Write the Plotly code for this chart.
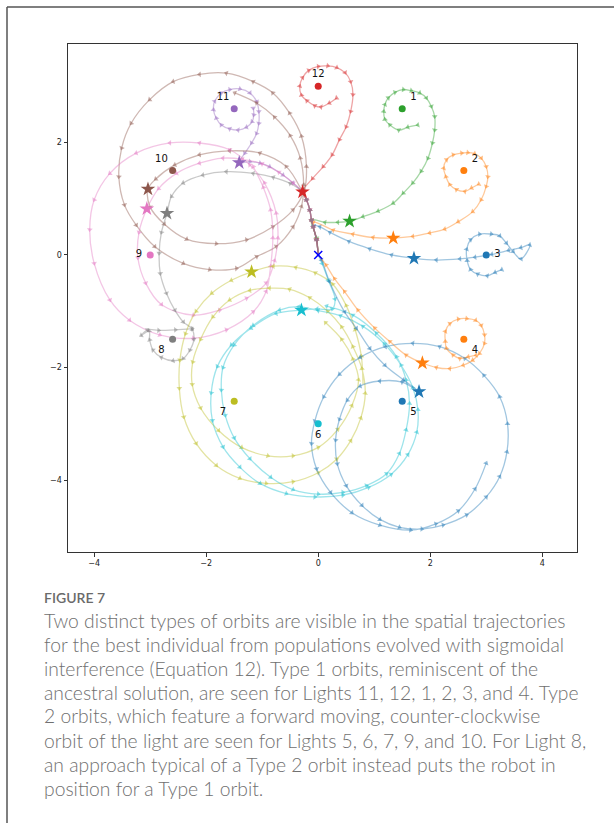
import plotly.graph_objects as go

# ---------------- data ----------------
light_ids = [3, 2, 1, 12, 11, 10, 9, 8, 7, 6, 5, 4]
light_x = [3.0, 2.6, 1.5, 0.0, -1.5, -2.6, -3.0, -2.6, -1.5, 0.0, 1.5, 2.6]
light_y = [0.0, 1.5, 2.6, 3.0, 2.6, 1.5, 0.0, -1.5, -2.6, -3.0, -2.6, -1.5]
star_x = [1.71, 1.34, 0.56, -0.28, -1.41, -3.04, -3.06, -2.70, -1.19, -0.30, 1.80, 1.86]
star_y = [-0.06, 0.30, 0.60, 1.12, 1.64, 1.17, 0.82, 0.74, -0.30, -0.98, -2.43, -1.92]
backward_ids = [11, 12, 1, 2, 3, 4]
origin_x = [0.0]
origin_y = [0.0]

p3_x = [0.00, -0.03, -0.08, 0.03, 0.21, 0.55, 0.92, 1.31, 1.71, 2.11, 2.53, 2.80, 3.10, 3.40, 3.62, 3.78,
        3.62, 3.48, 3.36, 3.24, 3.09, 2.88, 2.72, 2.65, 2.66, 2.72, 2.85, 3.02, 3.16, 3.28]
p3_y = [0.00, 0.27, 0.52, 0.50, 0.40, 0.24, 0.11, 0.00, -0.06, -0.09, -0.07, -0.04, 0.01, 0.08, 0.13, 0.18,
        -0.07, 0.06, 0.21, 0.34, 0.37, 0.37, 0.27, 0.10, -0.10, -0.26, -0.34, -0.37, -0.31, -0.26]

p2_x = [0.00, -0.03, -0.09, 0.27, 0.62, 0.98, 1.34, 1.69, 1.99, 2.26, 2.50, 2.76, 2.91, 3.00, 3.03, 3.00,
        2.91, 2.79, 2.67, 2.56, 2.41, 2.29, 2.24, 2.28, 2.35, 2.47, 2.62, 2.74, 2.87]
p2_y = [0.00, 0.28, 0.58, 0.44, 0.37, 0.31, 0.30, 0.33, 0.39, 0.46, 0.59, 0.77, 0.98, 1.22, 1.39, 1.57,
        1.72, 1.80, 1.82, 1.81, 1.78, 1.69, 1.54, 1.39, 1.25, 1.16, 1.13, 1.19, 1.26]

p1_x = [0.00, -0.03, -0.12, 0.12, 0.35, 0.56, 0.80, 1.07, 1.34, 1.52, 1.69, 1.84, 1.96, 2.04, 2.08, 2.08,
        2.02, 1.93, 1.81, 1.66, 1.52, 1.37, 1.25, 1.19, 1.17, 1.19, 1.28, 1.44, 1.60, 1.78]
p1_y = [0.00, 0.30, 0.62, 0.58, 0.58, 0.60, 0.68, 0.78, 0.92, 1.10, 1.28, 1.49, 1.72, 1.99, 2.22, 2.46,
        2.64, 2.79, 2.88, 2.92, 2.94, 2.89, 2.79, 2.67, 2.55, 2.41, 2.31, 2.22, 2.27, 2.31]

p12_x = [0.00, -0.03, -0.09, -0.12, -0.15, -0.21, -0.28, -0.10, 0.09, 0.25, 0.38, 0.50, 0.58, 0.62, 0.58,
         0.48, 0.33, 0.17, 0.00, -0.17, -0.28, -0.33, -0.30, -0.20, -0.06, 0.05, 0.20, 0.33]
p12_y = [0.00, 0.27, 0.50, 0.62, 0.80, 0.98, 1.12, 1.36, 1.57, 1.78, 2.05, 2.28, 2.55, 2.85, 3.08,
         3.24, 3.33, 3.36, 3.35, 3.28, 3.15, 3.00, 2.84, 2.74, 2.65, 2.63, 2.70, 2.79]

p11_x = [0.00, -0.03, -0.09, -0.12, -0.15, -0.21, -0.28, -0.45, -0.63, -0.87, -1.04, -1.22, -1.41, -1.31,
         -1.19, -1.10, -1.06, -1.06, -1.10, -1.22, -1.40, -1.58, -1.73, -1.85, -1.87, -1.82, -1.73, -1.58,
         -1.43, -1.28, -1.18, -1.15, -1.16]
p11_y = [0.00, 0.27, 0.50, 0.62, 0.80, 0.98, 1.12, 1.28, 1.42, 1.57, 1.63, 1.66, 1.64, 1.81,
         1.99, 2.16, 2.34, 2.55, 2.73, 2.88, 2.95, 2.94, 2.88, 2.73, 2.58, 2.43, 2.31, 2.24,
         2.22, 2.27, 2.37, 2.49, 2.61]

p10_x = [0.00, -0.03, -0.09, -0.12, -0.15, -0.21, -0.28, -0.57, -1.04, -1.58, -2.12, -2.56, -2.90, -3.04,
         -3.00, -2.75, -2.35, -1.82, -1.28, -0.81, -0.45, -0.25, -0.21, -0.30, -0.51, -0.81, -1.16, -1.64,
         -2.12, -2.59, -3.01, -3.34, -3.51, -3.56, -3.46, -3.25, -2.92, -2.41, -1.94, -1.46, -1.10, -0.75,
         -0.45, -0.30, -0.26, -0.32, -0.50, -0.78, -1.10, -1.49]
p10_y = [0.00, 0.27, 0.50, 0.62, 0.80, 0.98, 1.12, 1.57, 1.81, 1.85, 1.78, 1.60, 1.35, 1.17,
         0.85, 0.55, 0.28, 0.20, 0.27, 0.50, 0.80, 1.15, 1.57, 2.11, 2.52, 2.88, 3.08, 3.23,
         3.21, 3.08, 2.76, 2.34, 1.90, 1.39, 0.89, 0.53, 0.15, -0.15, -0.26, -0.24, -0.03, 0.15,
         0.50, 0.86, 1.25, 1.72, 2.12, 2.45, 2.70, 2.88]

p9_x = [0.00, -0.03, -0.09, -0.12, -0.15, -0.21, -0.28, -0.45, -0.70, -1.00, -1.35, -1.70, -2.12, -2.53,
        -2.85, -3.06, -3.20, -3.22, -3.08, -2.80, -2.23, -1.76, -1.28, -0.93, -0.78, -0.72, -0.75, -0.96,
        -1.22, -1.58, -2.12, -2.65, -3.25, -3.72, -4.00, -4.08, -4.00, -3.72, -3.37, -2.83, -2.23, -1.64,
        -1.16, -0.93, -0.85, -0.81, -0.85, -0.98, -1.16]
p9_y = [0.00, 0.27, 0.50, 0.62, 0.80, 0.98, 1.12, 1.28, 1.47, 1.62, 1.70, 1.72, 1.63, 1.45,
        1.18, 0.82, 0.40, -0.05, -0.50, -0.88, -1.07, -0.98, -0.77, -0.50, -0.10, 0.30, 0.74, 1.28,
        1.60, 1.87, 1.99, 1.99, 1.81, 1.45, 0.98, 0.45, -0.15, -0.80, -1.16, -1.42, -1.48, -1.33,
        -1.01, -0.65, -0.20, 0.30, 0.80, 1.20, 1.57]

p8_x = [0.00, -0.03, -0.09, -0.12, -0.15, -0.21, -0.28, -0.50, -0.80, -1.16, -1.64, -2.06, -2.41, -2.62,
        -2.70, -2.80, -2.84, -2.82, -2.71, -2.56, -2.41, -2.25, -2.22, -2.29, -2.41, -2.59, -2.80, -2.95,
        -3.01, -3.02, -3.16, -3.05, -2.85, -2.55, -2.25]
p8_y = [0.00, 0.27, 0.50, 0.62, 0.80, 0.98, 1.12, 1.27, 1.38, 1.45, 1.48, 1.42, 1.28, 1.04,
        0.74, 0.40, 0.03, -0.33, -0.68, -0.98, -1.19, -1.32, -1.50, -1.69, -1.84, -1.88, -1.82, -1.69,
        -1.51, -1.35, -1.43, -1.33, -1.34, -1.33, -1.31]

p7_x = [0.80, 0.77, 0.66, 0.50, 0.26, -0.05, -0.40, -0.80, -1.19, -1.55, -1.90, -2.18, -2.37, -2.47,
        -2.48, -2.40, -2.18, -1.82, -1.40, -0.93, -0.45, 0.00, 0.33, 0.58, 0.76, 0.84, 0.78, 0.62,
        0.42, 0.17, -0.15, -0.51, -0.87, -1.22, -1.58, -1.88, -2.10, -2.24, -2.25, -2.10, -1.78, -1.37,
        -0.90, -0.45, 0.00, 0.35, 0.60, 0.72, 0.62, 0.42, 0.13]
p7_y = [-2.30, -1.80, -1.33, -0.90, -0.52, -0.32, -0.22, -0.20, -0.30, -0.45, -0.68, -1.00, -1.40, -1.87,
        -2.37, -2.88, -3.35, -3.74, -3.97, -4.06, -4.03, -3.87, -3.63, -3.30, -2.90, -2.46, -2.02, -1.63,
        -1.28, -1.00, -0.76, -0.61, -0.59, -0.63, -0.80, -1.10, -1.50, -1.90, -2.30, -2.72, -3.12, -3.42,
        -3.57, -3.57, -3.42, -3.10, -2.68, -2.22, -1.85, -1.50, -1.20]

p6_x = [0.00, 0.07, 0.18, 0.30, 0.25, -0.02, -0.30, -0.75, -1.20, -1.55, -1.80, -1.91, -1.89, -1.70,
        -1.40, -1.04, -0.57, -0.06, 0.44, 0.90, 1.30, 1.60, 1.76, 1.78, 1.69, 1.48, 1.18, 0.80,
        0.40, 0.00, -0.35, -0.69, -1.16, -1.50, -1.70, -1.73, -1.66, -1.50, -1.22, -0.85, -0.45, 0.00,
        0.44, 0.86, 1.22, 1.45, 1.57, 1.63, 1.57, 1.40, 1.04, 0.62, 0.15]
p6_y = [0.00, -0.15, -0.45, -0.78, -0.96, -0.96, -0.98, -1.04, -1.30, -1.60, -1.98, -2.45, -2.94, -3.41,
        -3.77, -4.06, -4.24, -4.30, -4.27, -4.13, -3.90, -3.55, -3.15, -2.75, -2.36, -1.96, -1.58, -1.27,
        -1.08, -0.99, -0.92, -0.98, -1.25, -1.60, -2.00, -2.40, -2.85, -3.25, -3.62, -3.95, -4.17, -4.25,
        -4.22, -4.10, -3.89, -3.53, -3.11, -2.64, -2.22, -1.81, -1.39, -1.07, -0.91]

p5_x = [0.00, 0.06, 0.20, 0.47, 0.68, 0.92, 1.19, 1.52, 1.80, 1.50, 1.10, 0.75, 0.52, 0.38, 0.31, 0.34,
        0.50, 0.78, 1.10, 1.45, 1.85, 2.23, 2.65, 3.00, 3.24, 3.37, 3.38, 3.24, 2.96, 2.62, 2.17, 1.69,
        1.20, 0.75, 0.38, 0.10, -0.06, -0.12, -0.03, 0.22, 0.60, 1.10, 1.65, 2.10, 2.50, 2.80, 3.00]
p5_y = [0.00, -0.09, -0.47, -1.01, -1.30, -1.66, -1.96, -2.22, -2.43, -2.26, -2.24, -2.33, -2.58, -2.92,
        -3.29, -3.71, -4.10, -4.45, -4.70, -4.84, -4.87, -4.80, -4.62, -4.30, -3.94, -3.50, -3.00, -2.52,
        -2.14, -1.84, -1.63, -1.57, -1.63, -1.82, -2.12, -2.52, -2.95, -3.35, -3.80, -4.22, -4.58, -4.80,
        -4.89, -4.78, -4.55, -4.16, -3.70]

p4_x = [0.00, 0.14, 0.29, 0.47, 0.71, 1.01, 1.28, 1.57, 1.86, 2.11, 2.35, 2.59, 2.76, 2.88, 2.97, 2.97,
        2.91, 2.81, 2.65, 2.50, 2.35, 2.27, 2.27, 2.29, 2.41, 2.53, 2.68, 2.82]
p4_y = [0.00, -0.18, -0.42, -0.65, -0.98, -1.30, -1.54, -1.78, -1.92, -2.00, -2.02, -1.96, -1.87, -1.75,
        -1.57, -1.42, -1.25, -1.16, -1.13, -1.14, -1.22, -1.36, -1.54, -1.66, -1.78, -1.84, -1.81, -1.78]

x_ticks = [-4, -2, 0, 2, 4]
y_ticks = [-4, -2, 0, 2]

caption_title = "FIGURE 7"
caption_lines = [
    "Two distinct types of orbits are visible in the spatial trajectories",
    "for the best individual from populations evolved with sigmoidal",
    "interference (Equation 12). Type 1 orbits, reminiscent of the",
    "ancestral solution, are seen for Lights 11, 12, 1, 2, 3, and 4. Type",
    "2 orbits, which feature a forward moving, counter-clockwise",
    "orbit of the light are seen for Lights 5, 6, 7, 9, and 10. For Light 8,",
    "an approach typical of a Type 2 orbit instead puts the robot in",
    "position for a Type 1 orbit.",
]

paths = {3: (p3_x, p3_y), 2: (p2_x, p2_y), 1: (p1_x, p1_y), 12: (p12_x, p12_y),
         11: (p11_x, p11_y), 10: (p10_x, p10_y), 9: (p9_x, p9_y), 8: (p8_x, p8_y),
         7: (p7_x, p7_y), 6: (p6_x, p6_y), 5: (p5_x, p5_y), 4: (p4_x, p4_y)}

# ---------------- style ----------------
TAB10 = ['#1f77b4', '#ff7f0e', '#2ca02c', '#d62728', '#9467bd',
         '#8c564b', '#e377c2', '#7f7f7f', '#bcbd22', '#17becf']


def rgba(h, a):
    h = h.lstrip('#')
    return 'rgba(%d,%d,%d,%.2f)' % (int(h[0:2], 16), int(h[2:4], 16), int(h[4:6], 16), a)


fig = go.Figure()

for i, lid in enumerate(light_ids):
    col = TAB10[i % 10]
    px, py = paths[lid]
    sizes = [0] + [5] * (len(px) - 1)
    fig.add_trace(go.Scatter(
        x=px, y=py, mode='lines+markers',
        line=dict(color=rgba(col, 0.42), width=1.3, shape='spline', smoothing=1.0),
        marker=dict(symbol='triangle-up', size=sizes, color=rgba(col, 0.7),
                    angleref='previous', angle=180 if lid in backward_ids else 0,
                    line=dict(width=0)),
        hoverinfo='skip', showlegend=False))

for i, lid in enumerate(light_ids):
    col = TAB10[i % 10]
    fig.add_trace(go.Scatter(x=[star_x[i]], y=[star_y[i]], mode='markers',
                             marker=dict(symbol='star', size=11, color=col, line=dict(width=0)),
                             hoverinfo='skip', showlegend=False))
    fig.add_trace(go.Scatter(x=[light_x[i]], y=[light_y[i]], mode='markers',
                             marker=dict(symbol='circle', size=7, color=col, line=dict(width=0)),
                             hoverinfo='skip', showlegend=False))


def sgn(v):
    return 0 if abs(v) < 0.1 else (1 if v > 0 else -1)


fig.add_trace(go.Scatter(
    x=[lx + 0.2 * sgn(lx) for lx in light_x],
    y=[ly + 0.2 * sgn(ly) for ly in light_y],
    mode='text', text=[str(l) for l in light_ids],
    textfont=dict(family='DejaVu Sans', size=10, color='#111111'),
    hoverinfo='skip', showlegend=False))

fig.add_trace(go.Scatter(x=origin_x, y=origin_y, mode='markers',
                         marker=dict(symbol='x-thin', size=8, line=dict(color='#0000ff', width=1.5)),
                         hoverinfo='skip', showlegend=False))

W, H = 614, 823
ML, MR, MT, MB = 68, 37, 44, 271
PW, PH = W - ML - MR, H - MT - MB


def pxx(p):
    return (p - ML) / PW


def pxy(p):
    return (H - MB - p) / PH


axis_common = dict(showgrid=False, zeroline=False, showline=True, mirror=True,
                   linecolor='#333333', linewidth=1, ticks='outside', ticklen=3.5,
                   tickwidth=0.8, tickcolor='#333333',
                   tickfont=dict(family='DejaVu Sans', size=8, color='#222222'))

fig.update_layout(
    width=W, height=H, margin=dict(l=ML, r=MR, t=MT, b=MB),
    plot_bgcolor='white', paper_bgcolor='white',
    xaxis=dict(range=[-4.468, 4.621], tickvals=x_ticks, **axis_common),
    yaxis=dict(range=[-5.279, 3.749], tickvals=y_ticks, **axis_common),
    shapes=[
        dict(type='line', xref='paper', yref='paper', x0=pxx(7), x1=pxx(W + 5), y0=pxy(7), y1=pxy(7),
             line=dict(color='#555555', width=1.5)),
        dict(type='line', xref='paper', yref='paper', x0=pxx(7), x1=pxx(7), y0=pxy(7), y1=pxy(H + 5),
             line=dict(color='#555555', width=1.5)),
    ],
)

annotations = [dict(text=caption_title, xref='paper', yref='paper', x=pxx(42), y=pxy(597),
                    xanchor='left', yanchor='middle', showarrow=False,
                    font=dict(family='Lato', size=14, color='#6a6a6a', weight=600))]
for k, line in enumerate(caption_lines):
    annotations.append(dict(text=line, xref='paper', yref='paper', x=pxx(42), y=pxy(620 + 24 * k),
                            xanchor='left', yanchor='middle', showarrow=False,
                            font=dict(family='Lato', size=19.3, color='#707070', weight=300)))
fig.update_layout(annotations=annotations)

fig.write_html("out.html")
